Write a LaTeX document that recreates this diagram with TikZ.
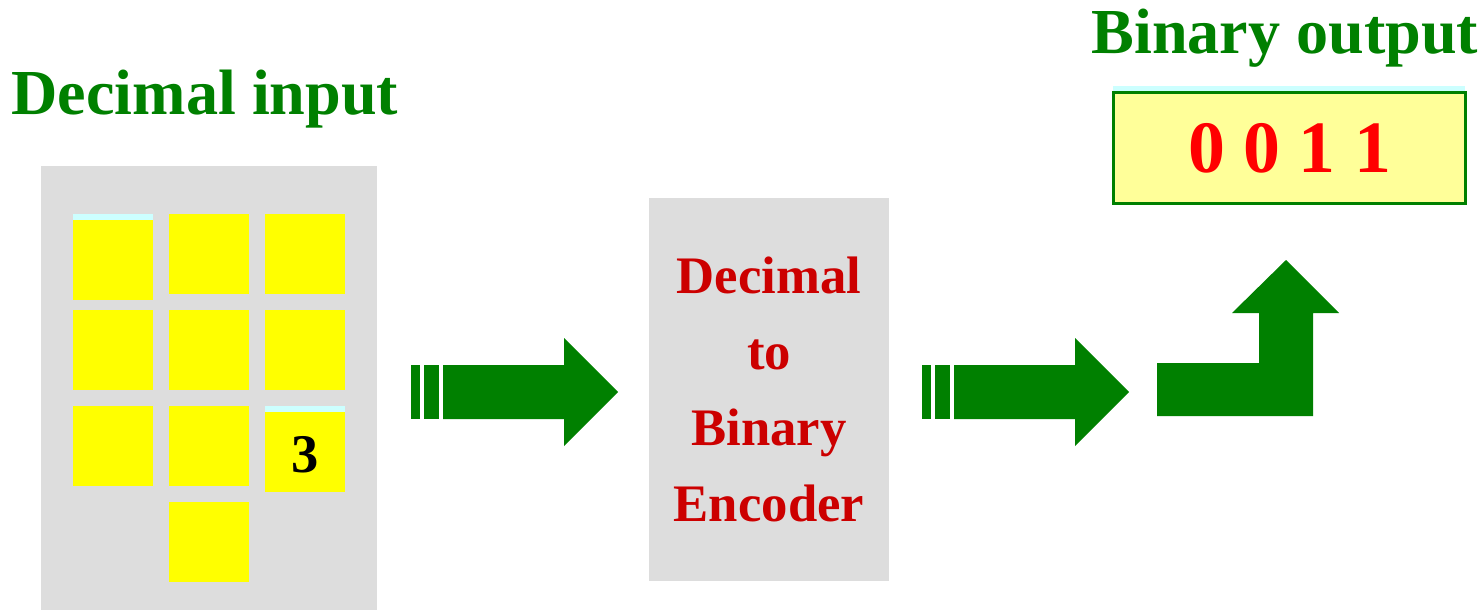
\documentclass[tikz,border=0pt]{standalone}
\usepackage{fontspec}
\setmainfont{Liberation Serif}
\usetikzlibrary{positioning}

\definecolor{padgreen}{HTML}{008000}
\definecolor{padgray}{HTML}{DDDDDD}
\definecolor{keyyellow}{HTML}{FFFF00}
\definecolor{keyshine}{HTML}{CCFFFF}
\definecolor{lcdyellow}{HTML}{FFFF99}
\definecolor{encred}{HTML}{CC0000}

\begin{document}
\begin{tikzpicture}[
    key/.style={fill=keyyellow},
    shine/.style={fill=keyshine},
    bigarrow/.style={fill=padgreen},
    title/.style={text=padgreen, anchor=base, font=\fontsize{36.5}{42}\selectfont\bfseries}
]
\useasboundingbox (0,0) rectangle (29.66,12.2);

% keypad panel
\fill[padgray] (0.82,0) rectangle (7.54,8.88);
\node[title] (inTitle) at (4.10, 9.90) {Decimal input};

% first row, key 1 held down
\fill[shine] (1.46,7.80) rectangle (3.06,7.92);
\fill[key] (1.46,6.20) rectangle (3.06,7.80);
\fill[key] (3.38,6.32) rectangle (4.98,7.92);
\fill[key] (5.30,6.32) rectangle (6.90,7.92);
% second row
\fill[key] (1.46,4.40) rectangle (3.06,6.00);
\fill[key] (3.38,4.40) rectangle (4.98,6.00);
\fill[key] (5.30,4.40) rectangle (6.90,6.00);
% third row, key 3 held down
\fill[key] (1.46,2.48) rectangle (3.06,4.08);
\fill[key] (3.38,2.48) rectangle (4.98,4.08);
\fill[shine] (5.30,3.96) rectangle (6.90,4.08);
\fill[key] (5.30,2.36) rectangle (6.90,3.96);
\node[anchor=base, font=\fontsize{31}{36}\selectfont\bfseries] (keyThree) at (6.10, 2.76) {3};
% bottom row
\fill[key] (3.38,0.56) rectangle (4.98,2.16);

% arrow into the encoder
\fill[bigarrow] (8.22,3.82) rectangle (8.40,4.90);
\fill[bigarrow] (8.48,3.82) rectangle (8.78,4.90);
\fill[bigarrow] (8.86,3.82) -- (11.28,3.82) -- (11.28,3.28) -- (12.36,4.36) -- (11.28,5.44) -- (11.28,4.90) -- (8.86,4.90) -- cycle;

% encoder block
\node[fill=padgray, minimum width=4.8cm, minimum height=7.66cm, inner sep=0pt,
      text=encred, align=center, font=\fontsize{30}{43.4}\selectfont\bfseries] (encoder) at (15.38, 4.41)
      {Decimal\\to\\Binary\\Encoder};

% arrow out of the encoder
\fill[bigarrow] (18.44,3.82) rectangle (18.62,4.90);
\fill[bigarrow] (18.70,3.82) rectangle (19.00,4.90);
\fill[bigarrow] (19.08,3.82) -- (21.50,3.82) -- (21.50,3.28) -- (22.58,4.36) -- (21.50,5.44) -- (21.50,4.90) -- (19.08,4.90) -- cycle;

% bent arrow up to the display
\fill[bigarrow] (23.14,3.88) -- (26.26,3.88) -- (26.26,5.94) -- (26.78,5.94) -- (25.72,7.00) -- (24.64,5.94) -- (25.18,5.94) -- (25.18,4.94) -- (23.14,4.94) -- cycle;

% binary display
\node[title] (outTitle) at (25.70, 11.12) {Binary output};
\fill[shine] (22.26,10.38) rectangle (29.30,10.48);
\node[draw=padgreen, line width=1.7pt, fill=lcdyellow, minimum width=7.04cm, minimum height=2.22cm,
      inner sep=0pt, text=red, font=\fontsize{42}{48}\selectfont\bfseries] (display) at (25.79, 9.24) {0 0 1 1};

\end{tikzpicture}
\end{document}
